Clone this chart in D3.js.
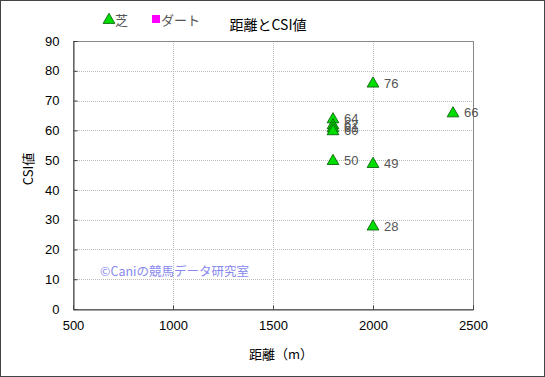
<!DOCTYPE html>
<html>
<head>
<meta charset="utf-8">
<script src="https://cdn.jsdelivr.net/npm/d3@7"></script>
<style>
  body { margin: 0; background: #fff; }
  text { font-family: "Noto Sans CJK JP", "Liberation Sans", sans-serif; }
</style>
</head>
<body>
<svg width="545" height="377"></svg>
<script>
// data
const distances = [1800, 1800, 1800, 1800, 1800, 2000, 2000, 2000, 2400];
const csiValues = [64, 62, 61, 60, 50, 76, 49, 28, 66];
const xTicks = [500, 1000, 1500, 2000, 2500];
const yTicks = [0, 10, 20, 30, 40, 50, 60, 70, 80, 90];
const legendNames = ['芝', 'ダート'];

const svg = d3.select('svg');
const width = +svg.attr('width');
const height = +svg.attr('height');

const margin = { top: 41, right: 72, bottom: 68, left: 73 };
const innerWidth = width - margin.left - margin.right;
const innerHeight = height - margin.top - margin.bottom;

// outer frame
svg.append('rect')
    .attr('x', 0.5).attr('y', 0.5)
    .attr('width', width - 1).attr('height', height - 1)
    .attr('fill', '#fff')
    .attr('stroke', '#444');

const xScale = d3.scaleLinear().domain([500, 2500]).range([0, innerWidth]);
const yScale = d3.scaleLinear().domain([0, 90]).range([innerHeight, 0]);

const g = svg.append('g')
    .attr('transform', `translate(${margin.left}, ${margin.top})`);

// grid
g.append('g').selectAll('line').data(yTicks.slice(1, -1))
  .enter().append('line')
    .attr('x1', 0).attr('x2', innerWidth)
    .attr('y1', d => Math.round(yScale(d)) + 0.5)
    .attr('y2', d => Math.round(yScale(d)) + 0.5)
    .attr('stroke', '#bbb')
    .attr('stroke-dasharray', '1,1');

g.append('g').selectAll('line').data(xTicks.slice(1, -1))
  .enter().append('line')
    .attr('y1', 0).attr('y2', innerHeight)
    .attr('x1', d => Math.round(xScale(d)) + 0.5)
    .attr('x2', d => Math.round(xScale(d)) + 0.5)
    .attr('stroke', '#bbb')
    .attr('stroke-dasharray', '1,1');

// plot border
g.append('rect')
    .attr('x', 0.5).attr('y', 0.5)
    .attr('width', innerWidth).attr('height', innerHeight)
    .attr('fill', 'none')
    .attr('stroke', '#888');

const yAxis = d3.axisLeft(yScale)
    .tickValues(yTicks)
    .tickSize(-4)
    .tickPadding(14);
const yAxisG = g.append('g').attr('transform', 'translate(0.5,0)').call(yAxis);
yAxisG.select('.domain').attr('stroke', '#444');
yAxisG.selectAll('.tick line').attr('stroke', '#444');
yAxisG.selectAll('.tick text')
    .attr('font-size', 13)
    .attr('fill', '#000')
    .style('font-family', '"Liberation Sans", sans-serif');

const xAxis = d3.axisBottom(xScale)
    .tickValues(xTicks)
    .tickSize(-4)
    .tickPadding(11)
    .tickFormat(d3.format('d'));
const xAxisG = g.append('g').attr('transform', `translate(0, ${innerHeight + 0.5})`).call(xAxis);
xAxisG.select('.domain').attr('stroke', '#444');
xAxisG.selectAll('.tick line').attr('stroke', '#444');
xAxisG.selectAll('.tick text')
    .attr('font-size', 13)
    .attr('fill', '#000')
    .style('font-family', '"Liberation Sans", sans-serif');

// axis labels
g.append('text')
    .attr('text-anchor', 'middle')
    .attr('x', innerWidth / 2 + 8)
    .attr('y', innerHeight + 50)
    .attr('font-size', 13)
    .text('距離（m）');

g.append('text')
    .attr('text-anchor', 'middle')
    .attr('transform', `translate(-40, ${innerHeight / 2 - 6}) rotate(-90)`)
    .attr('font-size', 13)
    .text('CSI値');

// title
svg.append('text')
    .attr('text-anchor', 'middle')
    .attr('x', 268)
    .attr('y', 30)
    .attr('font-size', 14)
    .text('距離とCSI値');

// watermark
g.append('text')
    .attr('x', 100 - margin.left)
    .attr('y', 276 - margin.top)
    .attr('font-size', 12.5)
    .attr('fill', '#8888ee')
    .text('©Caniの競馬データ研究室');

// points
const tri = d3.symbol().type(d3.symbolTriangle).size(60);
const pts = distances.map((d, i) => ({ x: d, y: csiValues[i] }));

g.selectAll('path.pt').data(pts)
  .enter().append('path')
    .attr('class', 'pt')
    .attr('d', tri)
    .attr('transform', d => `translate(${xScale(d.x)}, ${yScale(d.y) + 1})`)
    .attr('fill', '#00dd00')
    .attr('stroke', '#005500')
    .attr('stroke-width', 0.8);

g.selectAll('text.lbl').data(pts)
  .enter().append('text')
    .attr('class', 'lbl')
    .attr('x', d => xScale(d.x) + 11)
    .attr('y', d => yScale(d.y) + 5)
    .attr('font-size', 13)
    .attr('fill', '#555')
    .style('font-family', '"Liberation Sans", sans-serif')
    .text(d => d.y);

// legend
const legend = svg.append('g');
legend.append('path')
    .attr('d', tri)
    .attr('transform', 'translate(109, 20)')
    .attr('fill', '#00dd00')
    .attr('stroke', '#005500')
    .attr('stroke-width', 0.8);
legend.append('text')
    .attr('x', 115).attr('y', 25)
    .attr('font-size', 13)
    .attr('fill', '#555')
    .text(legendNames[0]);
legend.append('rect')
    .attr('x', 152).attr('y', 15)
    .attr('width', 8).attr('height', 8)
    .attr('fill', '#ff00ff');
legend.append('text')
    .attr('x', 161).attr('y', 25)
    .attr('font-size', 13)
    .attr('fill', '#555')
    .text(legendNames[1]);
</script>
</body>
</html>
